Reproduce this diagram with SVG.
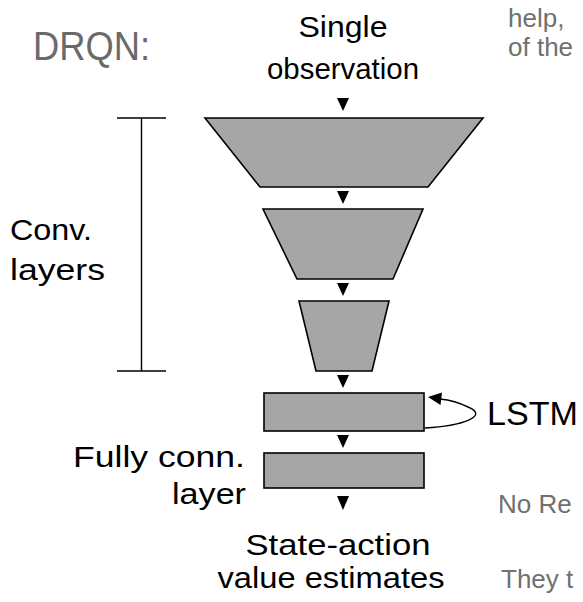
<svg xmlns="http://www.w3.org/2000/svg" width="583" height="602" viewBox="0 0 583 602">
  <style>
    .lbl { font-family: "Liberation Sans", Arial, Helvetica, sans-serif; fill: #000; }
    .big { font-size: 30px; }
    .gray { font-family: "Liberation Sans", Arial, Helvetica, sans-serif; fill: #707070; font-size: 26px; }
    .title { font-size: 41px; fill: #6a6a6a; }
    .layer { fill: #a6a6a6; stroke: #000; stroke-width: 1.6; stroke-linejoin: miter; }
    .tri { fill: #000; }
    .line { fill: none; stroke: #000; stroke-width: 1.4; }
  </style>

  <!-- title and side text -->
  <text class="gray title" x="33" y="60" textLength="117" lengthAdjust="spacingAndGlyphs">DRQN:</text>
  <text class="gray" x="508" y="27">help,</text>
  <text class="gray" x="508" y="56">of the</text>
  <text class="gray" x="498" y="513">No Re</text>
  <text class="gray" x="501" y="588">They t</text>

  <!-- bracket spanning the convolutional layers -->
  <g id="conv-bracket">
    <path class="line" d="M117,118 H166 M141.5,118 V371 M117,371 H166"/>
    <text class="lbl big" x="10" y="240" textLength="82" lengthAdjust="spacingAndGlyphs">Conv.</text>
    <text class="lbl big" x="10" y="280" textLength="95" lengthAdjust="spacingAndGlyphs">layers</text>
  </g>

  <g id="input">
    <text class="lbl big" x="343" y="37" text-anchor="middle" textLength="89" lengthAdjust="spacingAndGlyphs">Single</text>
    <text class="lbl big" x="343" y="79" text-anchor="middle" textLength="152" lengthAdjust="spacingAndGlyphs">observation</text>
  </g>

  <g id="conv1"><polygon class="layer" points="205,118 483,118 428,187 260,187"/></g>
  <g id="conv2"><polygon class="layer" points="263,209 423,209 393,279 297,279"/></g>
  <g id="conv3"><polygon class="layer" points="299,301 389,301 372,371 316,371"/></g>
  <g id="lstm">
    <rect class="layer" x="264" y="393" width="160" height="38"/>
    <text class="lbl" x="487" y="425" style="font-size:34px" textLength="91" lengthAdjust="spacingAndGlyphs">LSTM</text>
  </g>
  <g id="fc">
    <rect class="layer" x="264" y="453" width="160" height="35"/>
    <text class="lbl big" x="245" y="467" text-anchor="end" textLength="172" lengthAdjust="spacingAndGlyphs">Fully conn.</text>
    <text class="lbl big" x="246" y="504" text-anchor="end" textLength="74" lengthAdjust="spacingAndGlyphs">layer</text>
  </g>
  <g id="output">
    <text class="lbl big" x="338" y="555" text-anchor="middle" textLength="185" lengthAdjust="spacingAndGlyphs">State-action</text>
    <text class="lbl big" x="331" y="588" text-anchor="middle" textLength="227" lengthAdjust="spacingAndGlyphs">value estimates</text>
  </g>

  <!-- flow arrows between stages and the recurrent loop -->
  <g id="connectors">
    <polygon class="tri" points="337,98 349,98 343,111"/>
    <polygon class="tri" points="337,191 349,191 343,204"/>
    <polygon class="tri" points="337,283 349,283 343,296"/>
    <polygon class="tri" points="337,375 349,375 343,388"/>
    <polygon class="tri" points="337,435 349,435 343,448"/>
    <polygon class="tri" points="337,496 349,496 343,510"/>
    <path class="line" d="M425,428 C462,426 490,416 468,407 C458,402 450,400 440,399"/>
    <polygon class="tri" points="428,397 442,392.5 440.5,405"/>
  </g>
</svg>
